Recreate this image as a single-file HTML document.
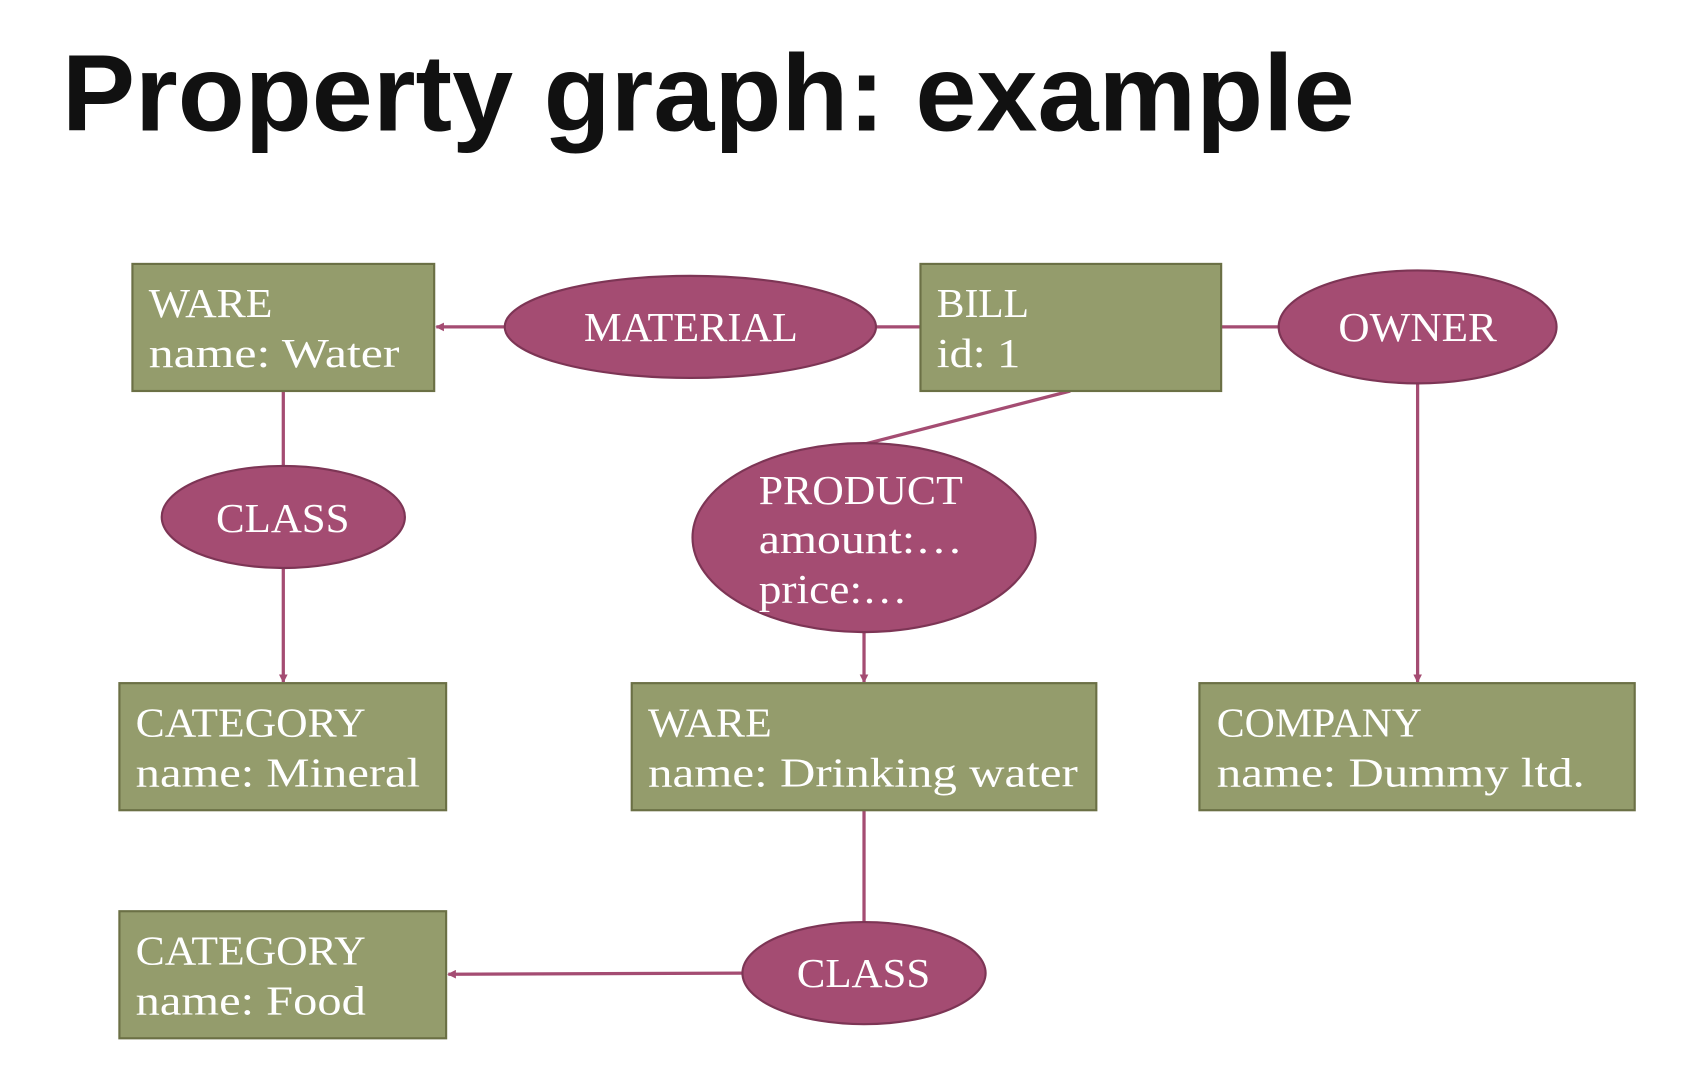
<!DOCTYPE html>
<html><head><meta charset="utf-8"><style>html,body{margin:0;padding:0;background:#fff}svg{display:block}</style></head>
<body>
<svg width="1702" height="1085" viewBox="0 0 1568 999" preserveAspectRatio="none" xmlns="http://www.w3.org/2000/svg">
<defs><marker id="a" markerWidth="8" markerHeight="8" refX="7" refY="4" orient="auto" markerUnits="userSpaceOnUse"><path d="M0,0 L8,4 L0,8 Z" fill="#a44c72"/></marker></defs>
<text x="57" y="120" font-family="Liberation Sans, sans-serif" font-weight="bold" font-size="100" textLength="1191" lengthAdjust="spacingAndGlyphs" fill="#111">Property graph: example</text>
<g stroke="#a44c72" stroke-width="3" fill="none">
<line x1="465" y1="301" x2="402" y2="301" marker-end="url(#a)"/>
<line x1="806" y1="301" x2="848" y2="301"/>
<line x1="1125" y1="301" x2="1178" y2="301"/>
<line x1="1306" y1="353" x2="1306" y2="628" marker-end="url(#a)"/>
<line x1="261" y1="360" x2="261" y2="429"/>
<line x1="261" y1="523" x2="261" y2="628" marker-end="url(#a)"/>
<line x1="986" y1="360" x2="796" y2="409"/>
<line x1="796" y1="582" x2="796" y2="628" marker-end="url(#a)"/>
<line x1="796" y1="746" x2="796" y2="849"/>
<line x1="684" y1="896" x2="413" y2="897" marker-end="url(#a)"/>
</g>
<g fill="#949c6c" stroke="#6b7045" stroke-width="2">
<rect x="122" y="243" width="278" height="117"/>
<rect x="848" y="243" width="277" height="117"/>
<rect x="110" y="629" width="301" height="117"/>
<rect x="582" y="629" width="428" height="117"/>
<rect x="1105" y="629" width="401" height="117"/>
<rect x="110" y="839" width="301" height="117"/>
</g>
<g fill="#a44c72" stroke="#7d3555" stroke-width="2">
<ellipse cx="636" cy="301" rx="171" ry="47"/>
<ellipse cx="1306" cy="301" rx="128" ry="52"/>
<ellipse cx="261" cy="476" rx="112" ry="47"/>
<ellipse cx="796" cy="495" rx="158" ry="87"/>
<ellipse cx="796" cy="896" rx="112" ry="47"/>
</g>
<g fill="#fff" font-family="Liberation Serif, serif" font-size="38">
<text x="137" y="292" textLength="114" lengthAdjust="spacingAndGlyphs">WARE</text><text x="137" y="338" textLength="231" lengthAdjust="spacingAndGlyphs">name: Water</text>
<text x="863" y="292" textLength="85" lengthAdjust="spacingAndGlyphs">BILL</text><text x="863" y="338" textLength="77" lengthAdjust="spacingAndGlyphs">id: 1</text>
<text x="125" y="678" textLength="212" lengthAdjust="spacingAndGlyphs">CATEGORY</text><text x="125" y="724" textLength="262" lengthAdjust="spacingAndGlyphs">name: Mineral</text>
<text x="597" y="678" textLength="114" lengthAdjust="spacingAndGlyphs">WARE</text><text x="597" y="724" textLength="396" lengthAdjust="spacingAndGlyphs">name: Drinking water</text>
<text x="1121" y="678" textLength="189" lengthAdjust="spacingAndGlyphs">COMPANY</text><text x="1121" y="724" textLength="339" lengthAdjust="spacingAndGlyphs">name: Dummy ltd.</text>
<text x="125" y="888" textLength="212" lengthAdjust="spacingAndGlyphs">CATEGORY</text><text x="125" y="934" textLength="212" lengthAdjust="spacingAndGlyphs">name: Food</text>
<text x="538" y="314" textLength="197" lengthAdjust="spacingAndGlyphs">MATERIAL</text>
<text x="1233" y="314" textLength="146" lengthAdjust="spacingAndGlyphs">OWNER</text>
<text x="199" y="490" textLength="123" lengthAdjust="spacingAndGlyphs">CLASS</text>
<text x="734" y="909" textLength="123" lengthAdjust="spacingAndGlyphs">CLASS</text>
<text x="699" y="464" textLength="188" lengthAdjust="spacingAndGlyphs">PRODUCT</text><text x="699" y="509" textLength="188" lengthAdjust="spacingAndGlyphs">amount:…</text><text x="699" y="555" textLength="137" lengthAdjust="spacingAndGlyphs">price:…</text>
</g>
</svg>
</body></html>
